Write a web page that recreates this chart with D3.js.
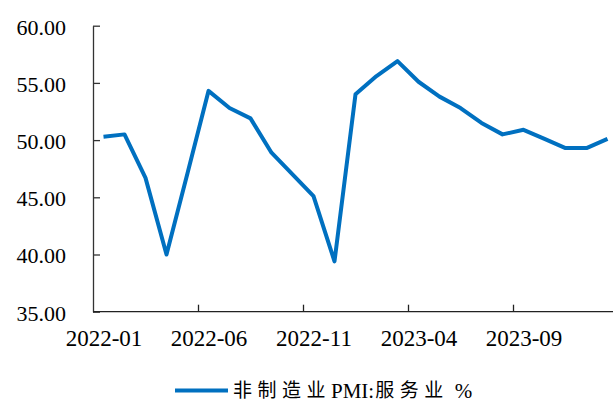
<!DOCTYPE html>
<html>
<head>
<meta charset="utf-8">
<script src="https://cdn.jsdelivr.net/npm/d3@7"></script>
<style>
  body { margin: 0; background: #fff; }
  svg { display: block; }
</style>
</head>
<body>
<svg id="chart" width="613" height="400"></svg>
<script>
// months 2022-01 .. 2024-01
let months = ["2022-01","2022-02","2022-03","2022-04","2022-05","2022-06","2022-07","2022-08","2022-09","2022-10","2022-11","2022-12",
              "2023-01","2023-02","2023-03","2023-04","2023-05","2023-06","2023-07","2023-08","2023-09","2023-10","2023-11","2023-12","2024-01"];
let services = [50.3, 50.5, 46.7, 40.0, 47.1, 54.3, 52.8, 51.9, 48.9, 47.0, 45.1, 39.4,
                54.0, 55.6, 56.9, 55.1, 53.8, 52.8, 51.5, 50.5, 50.9, 50.1, 49.3, 49.3, 50.1];
let yTicks = [35, 40, 45, 50, 55, 60];
let labelIdx = [0, 5, 10, 15, 20];
let legendParts = ["非制造业", "PMI:", "服务业", "%"];

let serif = "'Liberation Serif', 'DejaVu Serif', serif";
let cjk = "'Noto Sans CJK SC', sans-serif";

let svg = d3.select("#chart");
let padLeft = 93, padTop = 25.7, padBottom = 311.7, step = 21;

// x in category-index units, categories sit between integer boundaries
let x = d3.scaleLinear().domain([0, months.length]).range([padLeft, padLeft + months.length * step]);
let y = d3.scaleLinear().domain([35, 60]).range([padBottom, padTop]);

// y axis
let yAxis = svg.append("g")
  .attr("transform", "translate(" + padLeft + ",0)")
  .call(d3.axisLeft(y).tickValues(yTicks).tickSize(-7).tickSizeOuter(0).tickPadding(27)
    .tickFormat(d => d.toFixed(2)));
yAxis.attr("font-family", serif).attr("font-size", 22);
yAxis.selectAll("text").attr("dy", "0.38em").attr("fill", "#000");
yAxis.selectAll("line, path").attr("stroke", "#333").attr("stroke-width", 1.3);

// x axis ticks at category boundaries
let xTicks = svg.append("g")
  .attr("transform", "translate(0," + padBottom + ")")
  .call(d3.axisBottom(x).tickValues([5, 10, 15, 20]).tickSize(-7).tickSizeOuter(0).tickFormat(""));
xTicks.select(".domain").attr("d", "M" + padLeft + ",0H613");
xTicks.selectAll("line, path").attr("stroke", "#222").attr("stroke-width", 1.3);

// x labels at category centres
let xLabels = svg.append("g")
  .attr("transform", "translate(0," + padBottom + ")")
  .call(d3.axisBottom(x).tickValues(labelIdx.map(i => i + 0.5)).tickSize(0).tickPadding(18)
    .tickFormat(d => months[Math.floor(d)]));
xLabels.select(".domain").remove();
xLabels.attr("font-family", serif).attr("font-size", 23);
xLabels.selectAll("text").attr("fill", "#000");

// line
let line = d3.line()
  .x((d, i) => x(i + 0.5))
  .y(d => y(d));
svg.append("path")
  .datum(services)
  .attr("fill", "none")
  .attr("stroke", "#0070C0")
  .attr("stroke-width", 4)
  .attr("stroke-linejoin", "round")
  .attr("d", line);

// legend - pieces laid out one after another
let lg = svg.append("g").attr("transform", "translate(175,390.5)");
lg.append("line").attr("x1", 0).attr("x2", 53).attr("y1", 0).attr("y2", 0)
  .attr("stroke", "#0070C0").attr("stroke-width", 4);
let cx = 58;
legendParts.forEach(function(p, i) {
  let isCn = (i % 2 == 0);
  if (i == 3) cx += 6;
  let t = lg.append("text")
    .attr("x", cx).attr("y", 0).attr("dy", "0.36em")
    .attr("font-family", isCn ? cjk : serif)
    .attr("font-size", isCn ? 19 : 21)
    .attr("letter-spacing", isCn ? 5.5 : 0)
    .attr("fill", "#000")
    .text(p);
  cx += t.node().getComputedTextLength() + (isCn ? 0 : 1);
});
</script>
</body>
</html>
